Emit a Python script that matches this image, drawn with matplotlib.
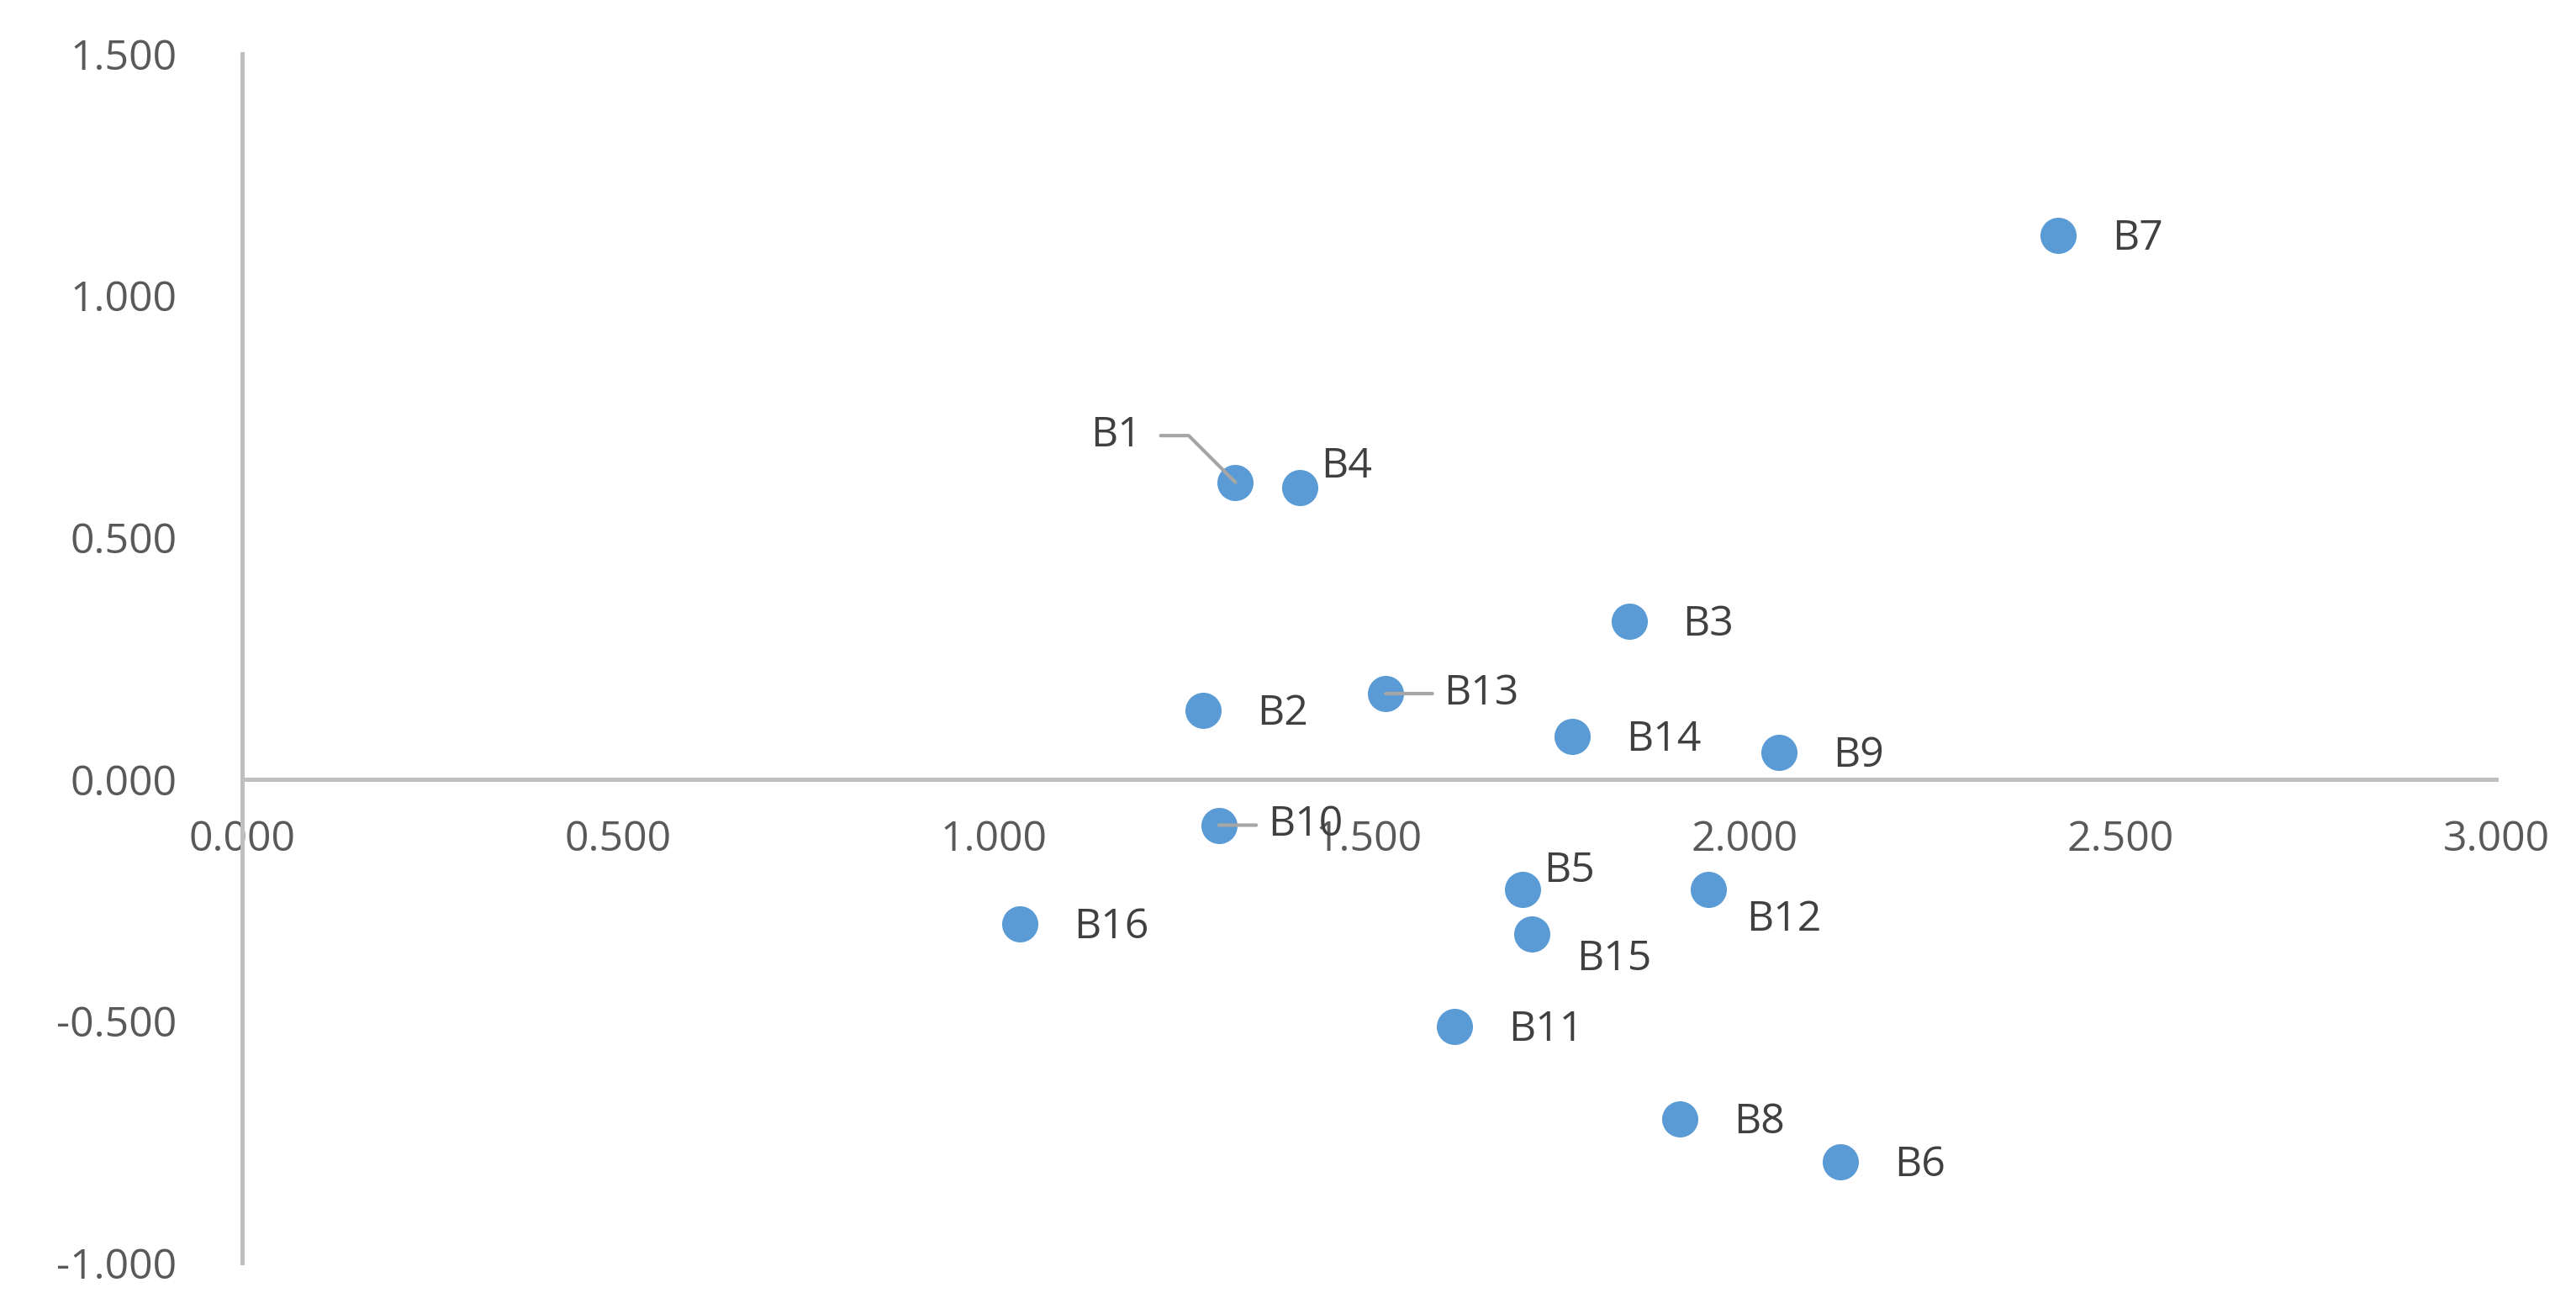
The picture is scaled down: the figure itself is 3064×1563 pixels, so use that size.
import matplotlib.pyplot as plt
from matplotlib.ticker import FormatStrFormatter, MultipleLocator

plt.rcParams["font.family"] = ["Open Sans", "DejaVu Sans"]

# data
names = ["B1", "B2", "B3", "B4", "B5", "B6", "B7", "B8",
         "B9", "B10", "B11", "B12", "B13", "B14", "B15", "B16"]
xs = [1.322, 1.279, 1.846, 1.408, 1.704, 2.127, 2.417, 1.914,
      2.046, 1.300, 1.614, 1.952, 1.522, 1.770, 1.717, 1.035]
ys = [0.614, 0.143, 0.327, 0.603, -0.228, -0.791, 1.125, -0.702,
      0.055, -0.095, -0.511, -0.228, 0.177, 0.089, -0.320, -0.300]

# label offsets in points (dx, dy), default to the right
offsets = {"B1": (-40, 20), "B4": (9, 9), "B5": (9, 8), "B12": (16, -13),
           "B15": (19, -11), "B13": (25, 0), "B10": (21, 0)}
leaders = {"B13", "B10"}

fig = plt.figure(figsize=(15.32, 7.815), dpi=200)
ax = fig.add_axes([0.094, 0.039, 0.875, 0.920])
ax.scatter(xs, ys, s=240, color="#5B9BD5", zorder=3, linewidths=0)

for n, x, y in zip(names, xs, ys):
    dx, dy = offsets.get(n, (23, -1.5))
    if n == "B1":
        ax.annotate(n, (x, y), xytext=(dx, dy), textcoords="offset points",
                    ha="right", va="center", fontsize=18, color="#404040",
                    arrowprops=dict(arrowstyle="-", color="#a6a6a6", lw=1.5,
                                    connectionstyle="angle,angleA=0,angleB=135,rad=0",
                                    shrinkA=6, shrinkB=0), zorder=4)
    elif n in leaders:
        ax.annotate(n, (x, y), xytext=(dx, dy), textcoords="offset points",
                    ha="left", va="center", fontsize=18, color="#404040",
                    arrowprops=dict(arrowstyle="-", color="#a6a6a6", lw=1.5,
                                    shrinkA=3, shrinkB=0), zorder=4)
    else:
        ax.annotate(n, (x, y), xytext=(dx, dy), textcoords="offset points",
                    ha="left", va="center", fontsize=18, color="#404040", zorder=4)

ax.set_xlim(0, 3)
ax.set_ylim(-1, 1.5)
ax.xaxis.set_major_locator(MultipleLocator(0.5))
ax.yaxis.set_major_locator(MultipleLocator(0.5))
ax.xaxis.set_major_formatter(FormatStrFormatter("%.3f"))
ax.yaxis.set_major_formatter(FormatStrFormatter("%.3f"))
ax.spines["bottom"].set_position(("data", 0))
for s in ["top", "right"]:
    ax.spines[s].set_visible(False)
for s in ["bottom", "left"]:
    ax.spines[s].set_color("#bfbfbf")
    ax.spines[s].set_linewidth(1.8)
ax.tick_params(length=0, labelsize=18, colors="#595959")
ax.tick_params(axis="x", pad=17)
ax.tick_params(axis="y", pad=28)
ax.set_facecolor("none")

fig.savefig("out.png", dpi=200)
